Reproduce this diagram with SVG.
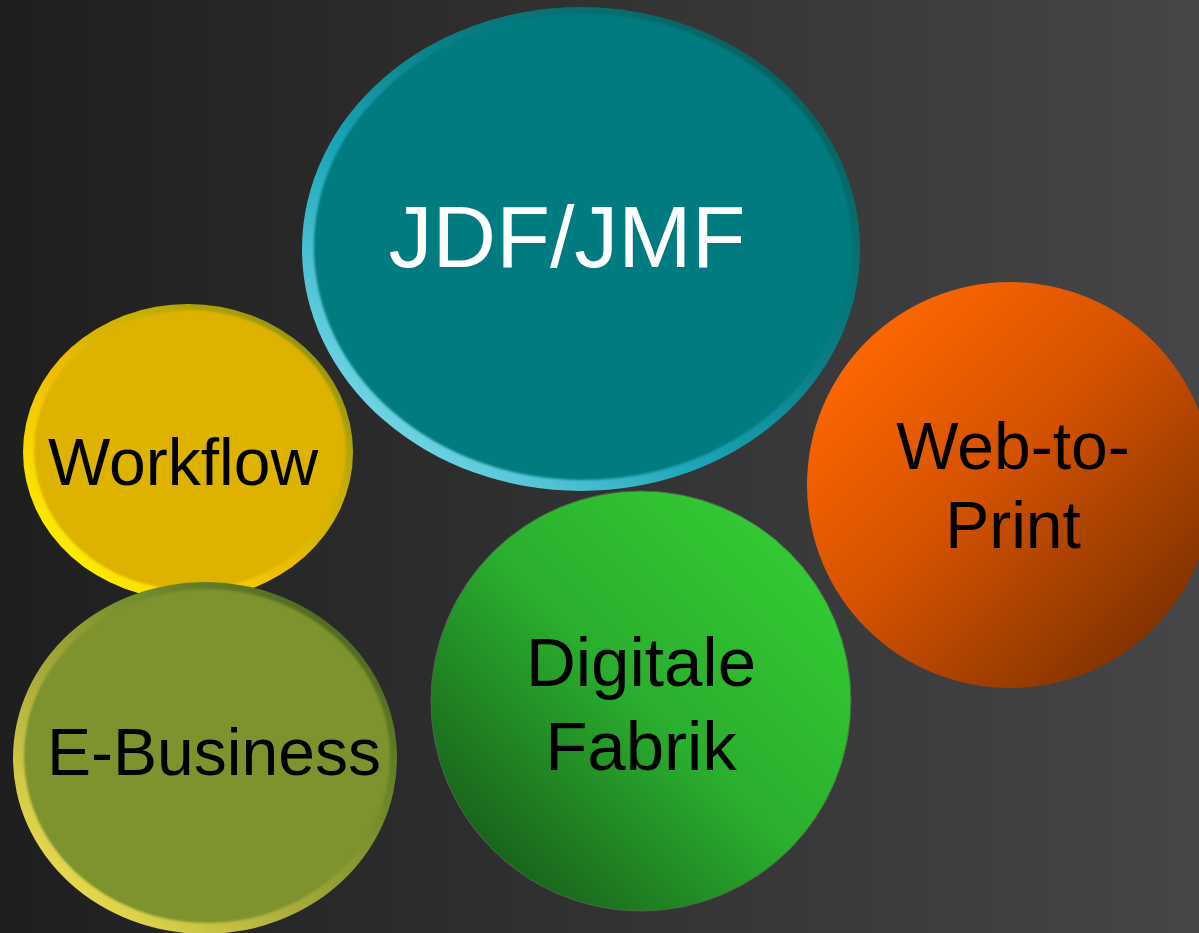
<svg xmlns="http://www.w3.org/2000/svg" width="1199" height="933" viewBox="0 0 1199 933">
<defs>
<linearGradient id="bg" x1="0" y1="0" x2="1" y2="0">
<stop offset="0" stop-color="#1e1e1e"/><stop offset="1" stop-color="#464648"/>
</linearGradient>
<linearGradient id="rimTeal" x1="0.1" y1="0.9" x2="0.9" y2="0.1">
<stop offset="0" stop-color="#7fdcec"/><stop offset="0.35" stop-color="#1aa6b8"/><stop offset="0.6" stop-color="#0a8088"/><stop offset="1" stop-color="#04605c"/>
</linearGradient>
<linearGradient id="rimYellow" x1="0.1" y1="0.9" x2="0.9" y2="0.1">
<stop offset="0" stop-color="#fff200"/><stop offset="0.4" stop-color="#f0c000"/><stop offset="0.7" stop-color="#c8b000"/><stop offset="1" stop-color="#8e9010"/>
</linearGradient>
<linearGradient id="rimOlive" x1="0.1" y1="0.9" x2="0.9" y2="0.1">
<stop offset="0" stop-color="#f0e050"/><stop offset="0.4" stop-color="#a4a83a"/><stop offset="0.7" stop-color="#6f8a2a"/><stop offset="1" stop-color="#4b6420"/>
</linearGradient>
<linearGradient id="gGreen" x1="0.15" y1="0.85" x2="0.85" y2="0.15">
<stop offset="0" stop-color="#1a661c"/><stop offset="0.5" stop-color="#2aae2e"/><stop offset="1" stop-color="#33c833"/>
</linearGradient>
<linearGradient id="gOrange" x1="0.15" y1="0.15" x2="0.85" y2="0.85">
<stop offset="0" stop-color="#fb6600"/><stop offset="0.45" stop-color="#d45200"/><stop offset="1" stop-color="#853400"/>
</linearGradient>
<filter id="soft" x="-5%" y="-5%" width="110%" height="110%"><feGaussianBlur stdDeviation="1.2"/></filter>
</defs>
<style>
.lbl{font-family:"Liberation Sans",Arial,sans-serif;text-anchor:middle;fill:#000}
.w{fill:#fff}
</style>
<rect width="1199" height="933" fill="url(#bg)"/>
<g id="node-jdf">
<ellipse cx="581" cy="249" rx="279" ry="242" fill="url(#rimTeal)"/>
<ellipse cx="583" cy="247" rx="269" ry="233" fill="#007b80" filter="url(#soft)"/>
<text class="lbl w" x="567" y="267" font-size="88">JDF/JMF</text>
</g>
<g id="node-workflow">
<ellipse cx="188" cy="452" rx="165" ry="148" fill="url(#rimYellow)"/>
<ellipse cx="190" cy="450" rx="156" ry="140" fill="#ddb300" filter="url(#soft)"/>
<text class="lbl" x="183" y="485" font-size="66">Workflow</text>
</g>
<g id="node-ebusiness">
<ellipse cx="205" cy="758" rx="192" ry="176" fill="url(#rimOlive)"/>
<ellipse cx="207" cy="756" rx="183" ry="167" fill="#7e922d" filter="url(#soft)"/>
<text class="lbl" x="214" y="775" font-size="66">E-Business</text>
</g>
<g id="node-web2print">
<ellipse cx="1010" cy="485" rx="203" ry="203" fill="url(#gOrange)"/>
<text class="lbl" x="1013" y="469" font-size="66">Web-to-</text>
<text class="lbl" x="1013" y="548" font-size="66">Print</text>
</g>
<g id="node-fabrik">
<ellipse cx="641" cy="701" rx="210" ry="210" fill="url(#gGreen)" stroke="#4a6a4a" stroke-width="1"/>
<text class="lbl" x="641" y="686" font-size="69">Digitale</text>
<text class="lbl" x="641" y="770" font-size="69">Fabrik</text>
</g>
<g id="connectors"/>
</svg>
